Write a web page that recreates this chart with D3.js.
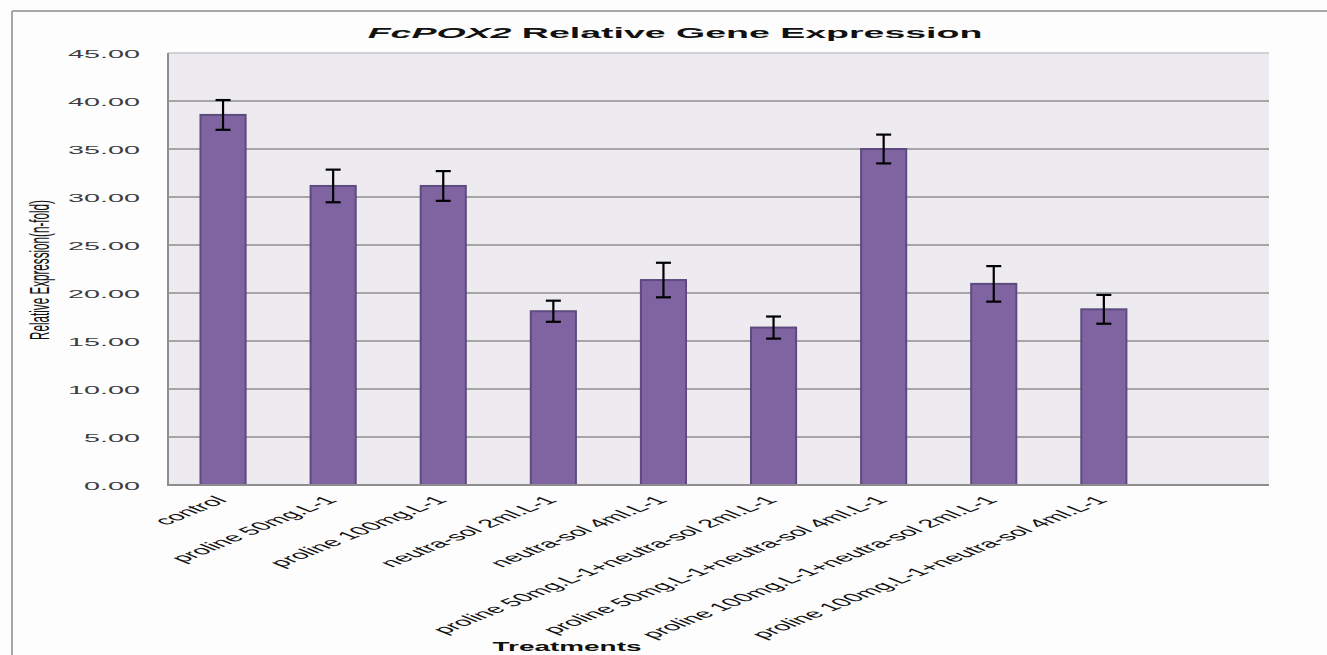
<!DOCTYPE html>
<html><head><meta charset="utf-8">
<script src="https://cdn.jsdelivr.net/npm/d3@7"></script>
<style>
html,body{margin:0;padding:0;background:#fdfdfd;}
svg{display:block;}
</style></head>
<body>
<svg id="chart" width="1327" height="655"></svg>
<script>
const categories = ["control","proline 50mg.L-1","proline 100mg.L-1","neutra-sol 2ml.L-1","neutra-sol 4ml.L-1",
  "proline 50mg.L-1+neutra-sol 2ml.L-1","proline 50mg.L-1+neutra-sol 4ml.L-1",
  "proline 100mg.L-1+neutra-sol 2ml.L-1","proline 100mg.L-1+neutra-sol 4ml.L-1"];
const values = [38.55, 31.15, 31.15, 18.1, 21.35, 16.4, 35.0, 20.95, 18.3];
const errors = [1.55, 1.7, 1.55, 1.1, 1.8, 1.15, 1.5, 1.85, 1.5];
const yTicks = [0,5,10,15,20,25,30,35,40,45];
const titleItalic = "FcPOX2";
const titleRest = " Relative Gene Expression";
const yTitle = "Relative Expression(n-fold)";
const xTitle = "Treatments";

const svg = d3.select("#chart");
const W = 1327, H = 655;
const plot = {left:168, right:1269, top:53, bottom:485};
const SX = 2.5; // horizontal stretch of the original picture

svg.append("rect").attr("width",W).attr("height",H).attr("fill","#fdfdfd");
// outer frame
svg.append("line").attr("x1",12).attr("x2",W).attr("y1",11).attr("y2",11).attr("stroke","#a8a8a8").attr("stroke-width",2);
svg.append("line").attr("x1",12).attr("x2",12).attr("y1",11).attr("y2",H).attr("stroke","#a8a8a8").attr("stroke-width",2);

const x = d3.scaleBand().domain([...categories, "__empty__"]).range([plot.left, plot.right])
  .paddingInner(0.572).paddingOuter(0.286);
const y = d3.scaleLinear().domain([0,45]).range([plot.bottom, plot.top]);

svg.append("rect").attr("x",plot.left).attr("y",plot.top)
  .attr("width",plot.right-plot.left).attr("height",plot.bottom-plot.top).attr("fill","#edebf0");

// gridlines
svg.append("g").selectAll("line").data(yTicks).join("line")
  .attr("x1",plot.left).attr("x2",plot.right)
  .attr("y1",d=>y(d)).attr("y2",d=>y(d))
  .attr("stroke",d=>d===45?"#c4c2c8":"#8e8e8e").attr("stroke-width",1.5);

// y axis
const yAxis = svg.append("g").attr("transform",`translate(${plot.left},0)`)
  .call(d3.axisLeft(y).tickValues(yTicks).tickFormat(d3.format(".2f")).tickSize(0).tickPadding(0));
yAxis.select(".domain").remove();
yAxis.selectAll("text").each(function(d){
  d3.select(this).attr("x",null).attr("dy",null)
    .attr("transform",`translate(-28,4) scale(${SX},1)`)
    .attr("text-anchor","end")
    .attr("font-family","Liberation Sans, Arial, sans-serif")
    .attr("font-size",11.5).attr("fill","#3c3c3c");
});

// bars
svg.append("g").selectAll("rect").data(values).join("rect")
  .attr("x",(d,i)=>x(categories[i])+1)
  .attr("y",d=>y(d))
  .attr("width",x.bandwidth()-2)
  .attr("height",d=>plot.bottom-y(d))
  .attr("fill","#8064a2").attr("stroke","#5d4a7e").attr("stroke-width",2);

// error bars
const eb = svg.append("g").attr("stroke","#000").attr("stroke-width",2.2);
values.forEach((v,i)=>{
  const cx = x(categories[i]) + x.bandwidth()/2;
  eb.append("line").attr("x1",cx).attr("x2",cx).attr("y1",y(v+errors[i])).attr("y2",y(v-errors[i]));
  eb.append("line").attr("x1",cx-7.5).attr("x2",cx+7.5).attr("y1",y(v+errors[i])).attr("y2",y(v+errors[i]));
  eb.append("line").attr("x1",cx-7.5).attr("x2",cx+7.5).attr("y1",y(v-errors[i])).attr("y2",y(v-errors[i]));
});

// axis lines
svg.append("line").attr("x1",plot.left).attr("x2",plot.left).attr("y1",plot.top).attr("y2",plot.bottom+1)
  .attr("stroke","#8e8e8e").attr("stroke-width",2);
svg.append("line").attr("x1",plot.left).attr("x2",plot.right).attr("y1",plot.bottom).attr("y2",plot.bottom)
  .attr("stroke","#8e8e8e").attr("stroke-width",2);

// x labels
const xAxis = svg.append("g").attr("transform",`translate(0,${plot.bottom})`)
  .call(d3.axisBottom(x).tickValues(categories).tickSize(0));
xAxis.select(".domain").remove();
xAxis.selectAll("text").each(function(d){
  d3.select(this).attr("y",null).attr("dy",null)
    .attr("transform",`translate(5,16) scale(${SX},1) rotate(-45)`)
    .attr("text-anchor","end")
    .attr("font-family","Liberation Sans, Arial, sans-serif")
    .attr("font-size",11.7).attr("fill","#111");
});

// title
const t = svg.append("text").attr("font-family","Liberation Sans, Arial, sans-serif")
  .attr("font-weight","bold").attr("font-size",15).attr("fill","#111").attr("text-anchor","middle");
t.append("tspan").attr("font-style","italic").text(titleItalic);
t.append("tspan").text(titleRest);
{
  const w = t.node().getComputedTextLength();
  t.attr("transform",`translate(675,38) scale(${615/w},1)`);
}

// y title
const yt = svg.append("text").attr("font-family","Liberation Sans, Arial, sans-serif")
  .attr("font-size",11).attr("fill","#111").attr("text-anchor","middle").attr("dy","0.35em").text(yTitle);
{
  const w = yt.node().getComputedTextLength();
  yt.attr("transform",`translate(39,270) scale(${SX},${140/w}) rotate(-90)`);
}

// x title
const xt = svg.append("text").attr("font-family","Liberation Sans, Arial, sans-serif")
  .attr("font-weight","bold").attr("font-size",13).attr("fill","#111").attr("text-anchor","middle").text(xTitle);
{
  const w = xt.node().getComputedTextLength();
  xt.attr("transform",`translate(567,651) scale(${149/w},1)`);
}
</script>
</body></html>
